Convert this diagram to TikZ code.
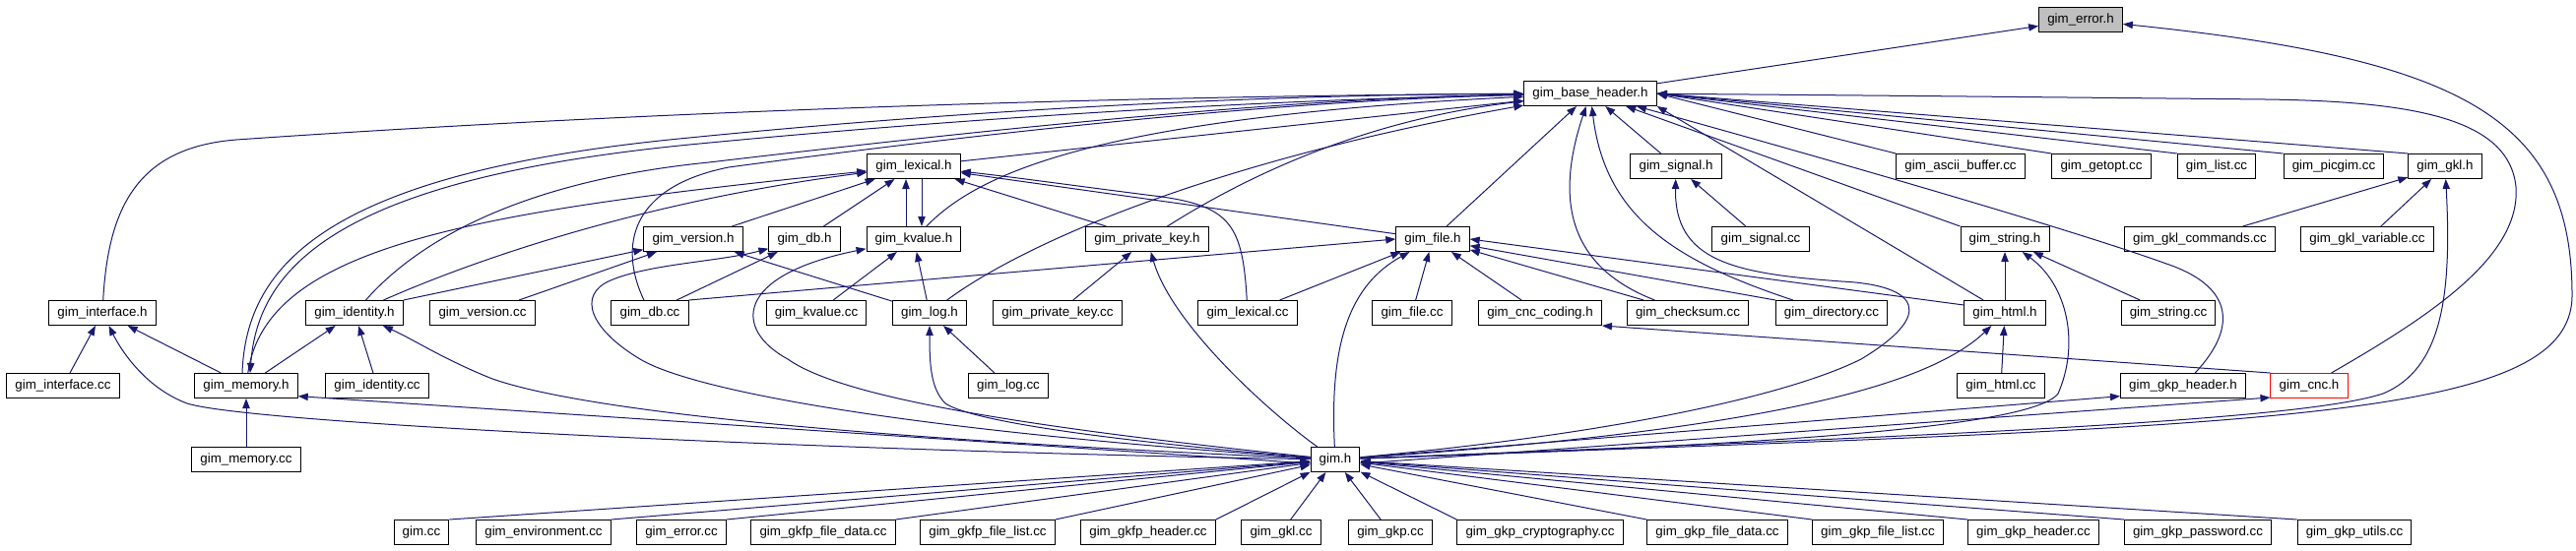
\documentclass[tikz,border=0pt]{standalone}
\usepackage{fontspec}
\setmainfont{Liberation Sans}
\usetikzlibrary{arrows.meta}
\definecolor{edgeblue}{RGB}{25,25,112}
\definecolor{rootgrey}{RGB}{191,191,191}

\begin{document}
\begin{tikzpicture}[
    x=0.75pt, y={(0pt,-0.75pt)},
    filebox/.style={rectangle, draw=black, fill=white, line width=0.75pt, inner xsep=6.5pt, inner ysep=0pt, minimum height=18.75pt, font=\fontsize{10}{12}\selectfont},
    rootfile/.style={filebox, fill=rootgrey},
    cutfile/.style={filebox, draw=red},
    incl/.style={-{Triangle[length=7.5pt,width=5.5pt]}, edgeblue, line width=0.75pt}
]
\fill[white] (0,0) rectangle (2616,560);
\useasboundingbox (0,0) rectangle (2616,560);

\node[rootfile] (err) at (2113,20) {gim\_error.h};
\node[filebox] (base) at (1615,95) {gim\_base\_header.h};

\node[filebox] (lexh) at (928,169) {gim\_lexical.h};
\node[filebox] (sigh) at (1702,169) {gim\_signal.h};
\node[filebox] (ascii) at (1991,169) {gim\_ascii\_buffer.cc};
\node[filebox] (getopt) at (2134,169) {gim\_getopt.cc};
\node[filebox] (list) at (2251,169) {gim\_list.cc};
\node[filebox] (picgim) at (2370,169) {gim\_picgim.cc};
\node[filebox] (gklh) at (2483,169) {gim\_gkl.h};

\node[filebox] (verh) at (704,243) {gim\_version.h};
\node[filebox] (dbh) at (817,243) {gim\_db.h};
\node[filebox] (kvh) at (928,243) {gim\_kvalue.h};
\node[filebox] (pkh) at (1165,243) {gim\_private\_key.h};
\node[filebox] (fileh) at (1455,243) {gim\_file.h};
\node[filebox] (sigcc) at (1788,243) {gim\_signal.cc};
\node[filebox] (strh) at (2036,243) {gim\_string.h};
\node[filebox] (gklcmd) at (2234,243) {gim\_gkl\_commands.cc};
\node[filebox] (gklvar) at (2404,243) {gim\_gkl\_variable.cc};

\node[filebox] (ifh) at (104,318) {gim\_interface.h};
\node[filebox] (idh) at (360,318) {gim\_identity.h};
\node[filebox] (vercc) at (490,318) {gim\_version.cc};
\node[filebox] (dbcc) at (660,318) {gim\_db.cc};
\node[filebox] (kvcc) at (829,318) {gim\_kvalue.cc};
\node[filebox] (logh) at (944,318) {gim\_log.h};
\node[filebox] (pkcc) at (1074,318) {gim\_private\_key.cc};
\node[filebox] (lexcc) at (1267,318) {gim\_lexical.cc};
\node[filebox] (filecc) at (1434,318) {gim\_file.cc};
\node[filebox] (cnccod) at (1564,318) {gim\_cnc\_coding.h};
\node[filebox] (chk) at (1714,318) {gim\_checksum.cc};
\node[filebox] (dir) at (1860,318) {gim\_directory.cc};
\node[filebox] (htmlh) at (2036,318) {gim\_html.h};
\node[filebox] (strcc) at (2202,318) {gim\_string.cc};

\node[filebox] (ifcc) at (64,392) {gim\_interface.cc};
\node[filebox] (memh) at (250,392) {gim\_memory.h};
\node[filebox] (idcc) at (383,392) {gim\_identity.cc};
\node[filebox] (logcc) at (1024,392) {gim\_log.cc};
\node[filebox] (htmlcc) at (2032,392) {gim\_html.cc};
\node[filebox] (gkphdh) at (2217,392) {gim\_gkp\_header.h};
\node[cutfile] (cnch) at (2345,392) {gim\_cnc.h};

\node[filebox] (memcc) at (250,467) {gim\_memory.cc};
\node[filebox] (gimh) at (1356,467) {gim.h};

\node[filebox] (gimcc) at (428,541) {gim.cc};
\node[filebox] (env) at (552,541) {gim\_environment.cc};
\node[filebox] (errcc) at (692,541) {gim\_error.cc};
\node[filebox] (gkfpfd) at (836,541) {gim\_gkfp\_file\_data.cc};
\node[filebox] (gkfpfl) at (1003,541) {gim\_gkfp\_file\_list.cc};
\node[filebox] (gkfph) at (1166,541) {gim\_gkfp\_header.cc};
\node[filebox] (gklcc) at (1301,541) {gim\_gkl.cc};
\node[filebox] (gkpcc) at (1412,541) {gim\_gkp.cc};
\node[filebox] (gkpcry) at (1564,541) {gim\_gkp\_cryptography.cc};
\node[filebox] (gkpfd) at (1744,541) {gim\_gkp\_file\_data.cc};
\node[filebox] (gkpfl) at (1907,541) {gim\_gkp\_file\_list.cc};
\node[filebox] (gkphcc) at (2065,541) {gim\_gkp\_header.cc};
\node[filebox] (gkppw) at (2232,541) {gim\_gkp\_password.cc};
\node[filebox] (gkput) at (2391,541) {gim\_gkp\_utils.cc};

\draw[incl] (base) -- (err);
\draw[incl] (gimh) .. controls (2300,432) and (2612,430) .. (2612,300) .. controls (2612,120) and (2500,60) .. (err);

\draw[incl] (ifh) .. controls (110,210) and (140,150) .. (240,142) .. controls (700,110) and (1200,97) .. (base);
\draw[incl] ([xshift=-3pt]memh.north) .. controls (250,270) and (330,175) .. (700,140) .. controls (1000,110) and (1300,96) .. (base);
\draw[incl] (base) .. controls (1300,101) and (1000,118) .. (700,147) .. controls (345,182) and (262,270) .. ([xshift=3pt]memh.north);
\draw[incl] (idh) .. controls (420,250) and (520,185) .. (720,165) .. controls (1000,132) and (1300,100) .. (base);
\draw[incl] (dbcc) .. controls (628,250) and (640,190) .. (740,170) .. controls (1000,135) and (1300,102) .. (base);
\draw[incl] (lexh) -- (base);
\draw[incl] (kvh) .. controls (990,180) and (1100,120) .. (base);
\draw[incl] (pkh) .. controls (1280,170) and (1400,120) .. (base);
\draw[incl] (logh) .. controls (1050,240) and (1250,160) .. (base);
\draw[incl] (fileh) -- (base);
\draw[incl] (sigh) -- (base);
\draw[incl] (chk) .. controls (1590,270) and (1580,200) .. (base);
\draw[incl] (dir) .. controls (1700,265) and (1630,220) .. (base);
\draw[incl] (htmlh) -- (base.south east);
\draw[incl] (strh.north west) -- (base);
\draw[incl] (ascii.north west) -- (base.east);
\draw[incl] (getopt.north west) -- (base.east);
\draw[incl] (list.north west) -- (base.east);
\draw[incl] (picgim.north west) -- (base.east);
\draw[incl] (gklh.north west) -- (base.east);
\draw[incl] (gkphdh) .. controls (2275,330) and (2265,290) .. (2200,268) .. controls (2100,232) and (1850,160) .. (base);
\draw[incl] (cnch) .. controls (2470,320) and (2560,260) .. (2555,190) .. controls (2548,120) and (2450,103) .. (2300,101) .. controls (2000,98) and (1800,96) .. (base);

\draw[incl] ([xshift=-6pt]kvh.north) -- ([xshift=-6pt]lexh.south);
\draw[incl] ([xshift=6pt]lexh.south) -- ([xshift=6pt]kvh.north);
\draw[incl] (dbh) -- (lexh);
\draw[incl] (verh) -- (lexh);
\draw[incl] (pkh) -- (lexh);
\draw[incl] (fileh) -- (lexh);
\draw[incl] (lexcc) .. controls (1262,230) and (1250,210) .. (1180,200) .. controls (1100,190) and (1030,180) .. (lexh);
\draw[incl] (idh) .. controls (480,265) and (650,205) .. (lexh);
\draw[incl] (memh) .. controls (270,250) and (480,215) .. (lexh);

\draw[incl] (idh.north east) -- (verh);
\draw[incl] (vercc) -- (verh);
\draw[incl] (logh) -- (verh);
\draw[incl] (dbcc) -- (dbh);
\draw[incl] (gimh) .. controls (900,436) and (700,395) .. (650,365) .. controls (600,335) and (585,300) .. (620,285) .. controls (660,268) and (730,266) .. (dbh);
\draw[incl] (kvcc) -- (kvh);
\draw[incl] (logh) -- (kvh);
\draw[incl] (gimh) .. controls (1000,430) and (850,400) .. (800,365) .. controls (745,335) and (745,280) .. (kvh);
\draw[incl] (logcc) -- (logh);
\draw[incl] (gimh) .. controls (1150,450) and (990,430) .. (960,410) .. controls (945,395) and (944,370) .. (logh);
\draw[incl] (pkcc) -- (pkh);
\draw[incl] (gimh) .. controls (1290,420) and (1190,330) .. (pkh);

\draw[incl] (lexcc) -- (fileh);
\draw[incl] (filecc) -- (fileh);
\draw[incl] (cnccod) -- (fileh);
\draw[incl] (chk) -- (fileh);
\draw[incl] (dir.north west) -- (fileh);
\draw[incl] ([yshift=6pt]htmlh.west) -- (fileh.east);
\draw[incl] (dbcc.north east) -- (fileh.west);
\draw[incl] (gimh) .. controls (1350,350) and (1370,290) .. (fileh);

\draw[incl] (sigcc) -- (sigh);
\draw[incl] (gimh) .. controls (1650,440) and (1820,400) .. (1890,365) .. controls (1965,320) and (1950,290) .. (1870,286) .. controls (1760,278) and (1700,265) .. (sigh);
\draw[incl] (htmlh) -- (strh);
\draw[incl] (strcc) -- (strh);
\draw[incl] (gimh) .. controls (1700,455) and (2060,440) .. (2090,400) .. controls (2112,350) and (2100,290) .. (strh);
\draw[incl] (htmlcc) -- (htmlh);
\draw[incl] (gimh) .. controls (1750,440) and (1950,400) .. (htmlh);
\draw[incl] (gklcmd) -- (gklh);
\draw[incl] (gklvar) -- (gklh);
\draw[incl] (gimh) .. controls (1900,445) and (2330,430) .. (2420,400) .. controls (2480,375) and (2490,300) .. (gklh);
\draw[incl] (gimh) -- ([yshift=-8pt]gkphdh.west);
\draw[incl] ([yshift=-3pt]gimh.east) -- ([yshift=-9pt]cnch.west);
\draw[incl] (cnch.north west) -- (cnccod.south east);

\draw[incl] (memh) -- (idh);
\draw[incl] (memh) -- (ifh);
\draw[incl] (ifcc) -- (ifh);
\draw[incl] (idcc) -- (idh);
\draw[incl] (memcc) -- (memh);
\draw[incl] ([yshift=-3pt]gimh.west) -- ([yshift=-8pt]memh.east);
\draw[incl] (gimh) .. controls (900,460) and (260,432) .. (190,410) .. controls (150,395) and (125,360) .. (ifh);
\draw[incl] (gimh) .. controls (900,447) and (600,420) .. (500,385) .. controls (450,365) and (420,345) .. (idh);

\draw[incl] (gimcc.north east) -- (gimh);
\draw[incl] (env.north east) -- (gimh);
\draw[incl] (errcc.north east) -- (gimh);
\draw[incl] (gkfpfd.north east) -- (gimh);
\draw[incl] (gkfpfl.north east) -- (gimh);
\draw[incl] (gkfph.north east) -- (gimh);
\draw[incl] (gklcc) -- (gimh);
\draw[incl] (gkpcc) -- (gimh);
\draw[incl] (gkpcry.north west) -- (gimh);
\draw[incl] (gkpfd.north west) -- (gimh);
\draw[incl] (gkpfl.north west) -- (gimh);
\draw[incl] (gkphcc.north west) -- (gimh);
\draw[incl] (gkppw.north west) -- (gimh);
\draw[incl] (gkput.north west) -- (gimh);
\end{tikzpicture}
\end{document}
